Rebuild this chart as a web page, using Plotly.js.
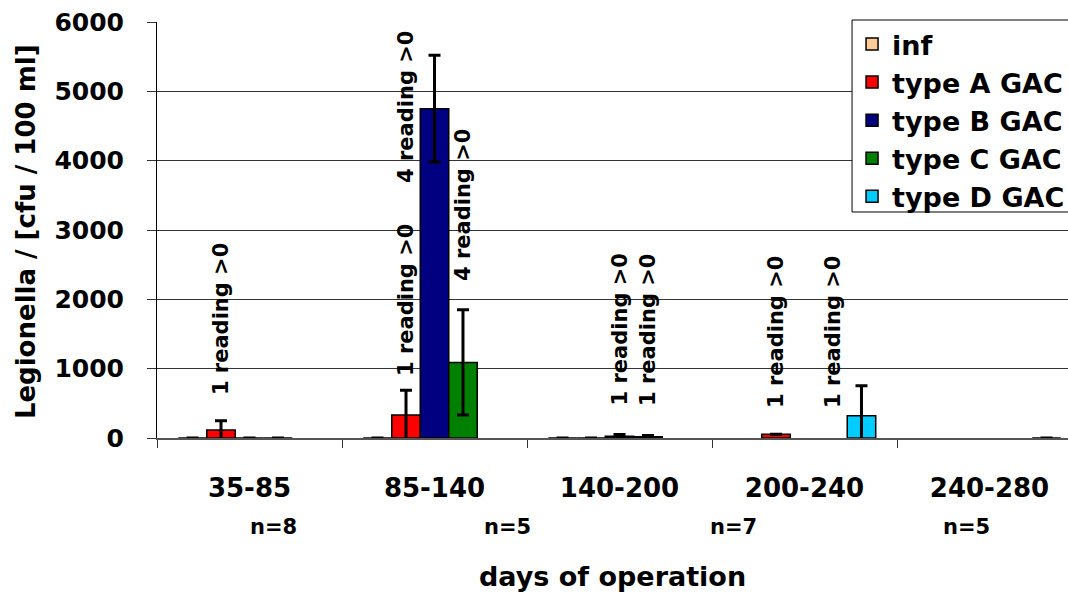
<!DOCTYPE html>
<html>
<head>
<meta charset="utf-8">
<script src="https://cdn.plot.ly/plotly-3.0.1.min.js"></script>
<style>
html,body{margin:0;padding:0;overflow:hidden;background:#fff;}
#chart{width:1100px;height:593px;}
</style>
</head>
<body>
<div id="chart"></div>
<script>
// ---- data ----
const categories = ['35-85', '85-140', '140-200', '200-240', '240-280'];
const seriesNames = ['inf', 'type A GAC', 'type B GAC', 'type C GAC', 'type D GAC'];
const infVals  = [0, 0, 0, null, null];
const infErr   = [0, 0, 0, null, null];
const typeAVals = [115, 330, 0, 55, null];
const typeAErr  = [135, 360, 0, null, null];
const typeBVals = [0, 4750, 25, null, null];
const typeBErr  = [0, 770, 25, null, null];
const typeCVals = [0, 1090, 18, null, null];
const typeCErr  = [0, 760, 18, null, null];
const typeDVals = [null, null, null, 322, 0];
const typeDErr  = [null, null, null, 433, 0];
const nTexts = ['n=8', 'n=5', 'n=7', 'n=5'];
const labelTexts = ['1 reading >0', '1 reading >0', '4 reading >0', '4 reading >0', '1 reading >0', '1 reading >0', '1 reading >0', '1 reading >0'];
const labelCategory = [0, 1, 1, 1, 2, 2, 3, 3];
const labelSeries = [1, 1, 1, 3, 2, 3, 1, 3];
const labelBase = [590, 865, 3650, 2235, 433, 433, 404, 404];
const yTicks = [0, 1000, 2000, 3000, 4000, 5000, 6000];

// ---- styles ----
const colors = ['#FFCC99', '#FF0000', '#000080', '#008000', '#00CCFF'];
const FONT = 'DejaVu Sans, Arial, sans-serif';
const allVals = [infVals, typeAVals, typeBVals, typeCVals, typeDVals];
const allErr = [infErr, typeAErr, typeBErr, typeCErr, typeDErr];

const traces = allVals.map((v, i) => ({
  type: 'bar',
  name: seriesNames[i],
  x: categories,
  y: v,
  marker: {color: colors[i], line: {color: '#000', width: 1.5}},
  error_y: {type: 'data', array: allErr[i], visible: true, color: '#000', thickness: 3, width: 6},
  hoverinfo: 'skip'
}));

const nSeries = seriesNames.length;
const barW = 0.77 / nSeries;
function seriesOffset(s) { return -0.385 + barW * (s + 0.5); }

const annotations = [];
labelTexts.forEach((t, k) => {
  annotations.push({
    text: t, x: labelCategory[k] + seriesOffset(labelSeries[k]), y: labelBase[k],
    xref: 'x', yref: 'y', textangle: -90, showarrow: false,
    xanchor: 'center', yanchor: 'bottom',
    font: {family: FONT, size: 21, color: '#000', weight: 'bold'}
  });
});
const nPos = [0.127, 1.392, 2.614, 3.878];
nTexts.forEach((t, k) => {
  annotations.push({
    text: t, x: nPos[k], y: -0.214, xref: 'x', yref: 'paper', showarrow: false,
    xanchor: 'center', yanchor: 'middle',
    font: {family: FONT, size: 21, color: '#000', weight: 'bold'}
  });
});
annotations.push({
  text: 'days of operation', x: 0.492, y: -0.334, xref: 'paper', yref: 'paper',
  showarrow: false, xanchor: 'center', yanchor: 'middle',
  font: {family: FONT, size: 27, color: '#000', weight: 'bold'}
});
annotations.push({
  text: 'Legionella / [cfu / 100 ml]', x: -0.1416, y: 0.495, xref: 'paper', yref: 'paper',
  textangle: -90, showarrow: false, xanchor: 'center', yanchor: 'middle',
  font: {family: FONT, size: 26, color: '#000', weight: 'bold'}
});

const layout = {
  width: 1100, height: 593,
  margin: {l: 157, r: 18, t: 22, b: 155},
  paper_bgcolor: '#fff', plot_bgcolor: '#fff',
  barmode: 'group', bargap: 0.23, bargroupgap: 0,
  showlegend: true,
  legend: {
    x: 0.7514, y: 1.005, xanchor: 'left', yanchor: 'top',
    bgcolor: 'rgba(0,0,0,0)', borderwidth: 0,
    font: {family: FONT, size: 27, color: '#000', weight: 'bold'},
    tracegroupgap: 0
  },
  shapes: [{
    type: 'rect', xref: 'paper', yref: 'paper', layer: 'above',
    x0: 0.7514, x1: 1.06, y0: 0.5433, y1: 1.0048,
    fillcolor: '#fff', line: {color: '#000', width: 1}
  }],
  xaxis: {
    type: 'category', tickson: 'boundaries', ticks: 'outside', ticklen: 8, tickcolor: '#333',
    showline: true, linecolor: '#555', linewidth: 2, showgrid: false, zeroline: false,
    ticklabelstandoff: 26,
    tickfont: {family: FONT, size: 26, color: '#000', weight: 'bold'}
  },
  yaxis: {
    range: [0, 6000], tickvals: yTicks, ticktext: yTicks.map(String),
    ticks: 'outside', ticklen: 9, tickcolor: '#333',
    showline: true, linecolor: '#000', linewidth: 1,
    showgrid: true, gridcolor: '#333', gridwidth: 1, zeroline: false,
    ticklabelstandoff: 18,
    tickfont: {family: FONT, size: 25, color: '#000', weight: 'bold'}
  },
  annotations: annotations
};

Plotly.newPlot('chart', traces, layout, {displayModeBar: false, staticPlot: true});
</script>
</body>
</html>
